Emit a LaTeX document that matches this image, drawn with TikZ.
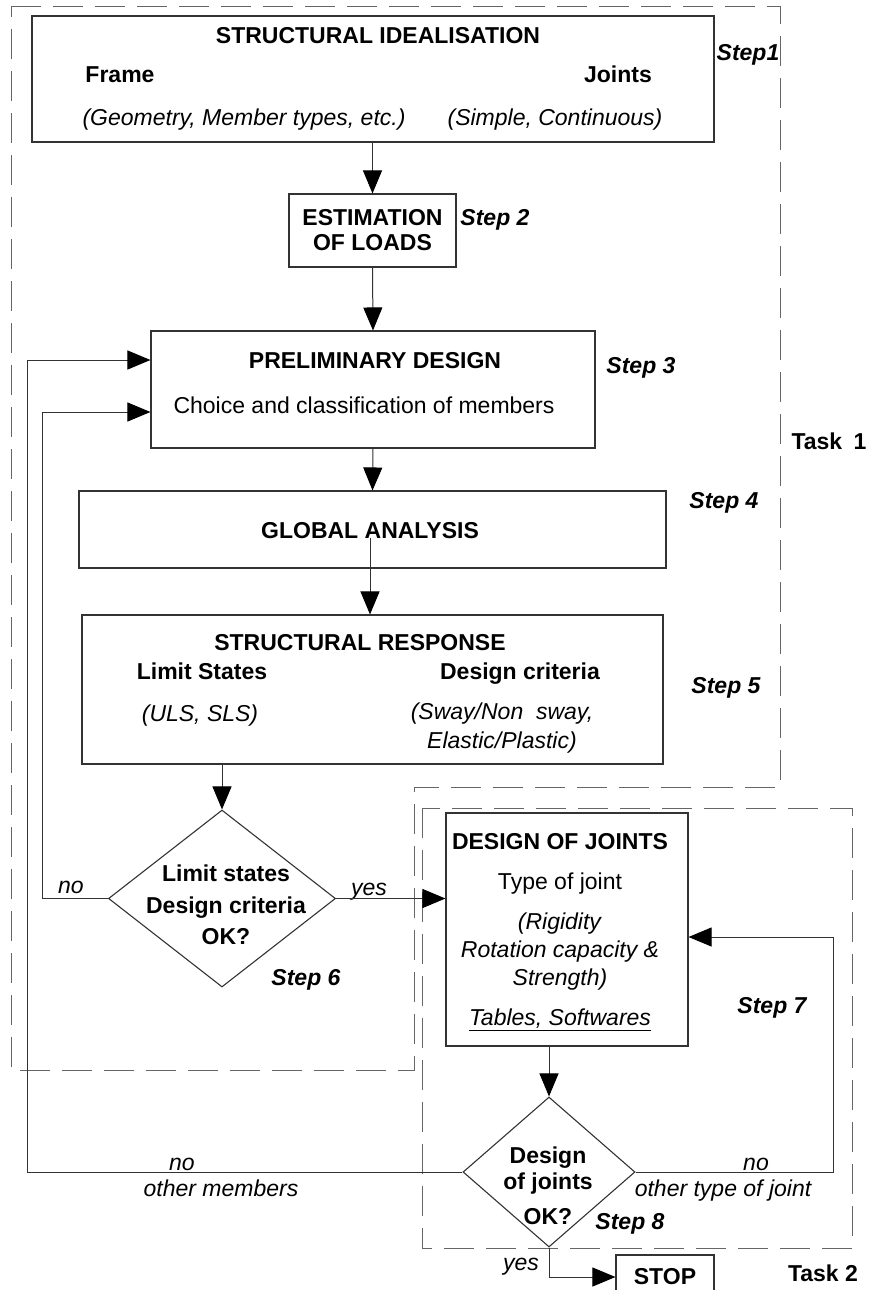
\documentclass[tikz,border=0pt]{standalone}
\usepackage{fontspec}
\setmainfont{Liberation Sans}
\usetikzlibrary{arrows.meta,shapes.geometric}
\begin{document}
\begin{tikzpicture}[x=1pt,y=-1pt,
  box/.style={draw=black!80,line width=1.1pt,inner sep=0pt},
  txt/.style={inner sep=0pt,text height=16.5pt,text depth=0pt},
  lines/.style={inner sep=0pt,align=center},
  steplbl/.style={txt,font=\bfseries\itshape},
  arr/.style={draw=black!80,line width=1pt,-{Triangle[length=23pt,width=19pt,fill=black,color=black]}},
  taskframe/.style={draw=black!60,line width=1pt,dash pattern=on 30pt off 12pt}]
  \fontsize{23}{28}\selectfont
  \useasboundingbox (0,0) rectangle (869,1290);
  \clip (0,0) rectangle (869,1290);
  % task frames
  \draw [taskframe] (11,7) -- (780,7) -- (780,787) -- (414,787) -- (414,1070) -- (11,1070) -- cycle;
  \draw [taskframe] (422,808) rectangle (852,1248);
  % step 1
  \node [box,minimum width=682pt,minimum height=126pt] (ideal) at (373,79) {};
  \node [txt,font=\bfseries] (ideal-t) at (378,35) {STRUCTURAL IDEALISATION};
  \node [txt,font=\bfseries] (frame) at (120,74) {Frame};
  \node [txt,font=\bfseries] (joints) at (618,74) {Joints};
  \node [txt,font=\itshape] (frame-d) at (244,117) {(Geometry, Member types, etc.)};
  \node [txt,font=\itshape] (joints-d) at (555,117) {(Simple, Continuous)};
  \node [steplbl] (s1) at (748,52) {Step1};
  % step 2
  \node [box,lines,font=\bfseries\fontsize{23}{25}\selectfont,minimum width=167pt,minimum height=73pt] (loads) at (372.5,230.5) {ESTIMATION\\OF LOADS};
  \node [steplbl] (s2) at (495,217) {Step 2};
  % step 3
  \node [box,minimum width=444pt,minimum height=117pt] (prelim) at (373,389.5) {};
  \node [txt,font=\bfseries] (prelim-t) at (375,360) {PRELIMINARY DESIGN};
  \node [txt] (prelim-d) at (364,405) {Choice and classification of members};
  \node [steplbl] (s3) at (641,365) {Step 3};
  \node [txt,font=\bfseries] (task1) at (829,441) {Task\enspace 1};
  % step 4
  \node [box,minimum width=587pt,minimum height=77pt] (global) at (372.5,529.5) {};
  \node [txt,font=\bfseries] (global-t) at (370,530) {GLOBAL ANALYSIS};
  \node [steplbl] (s4) at (724,500) {Step 4};
  % step 5
  \node [box,minimum width=581pt,minimum height=149pt] (resp) at (372.5,689.5) {};
  \node [txt,font=\bfseries] (resp-t) at (360,642) {STRUCTURAL RESPONSE};
  \node [txt,font=\bfseries] (limit) at (202,671) {Limit States};
  \node [txt,font=\bfseries] (crit) at (520,671) {Design criteria};
  \node [txt,font=\itshape] (limit-d) at (200,713) {(ULS, SLS)};
  \node [lines,font=\itshape\fontsize{23}{29}\selectfont] (crit-d) at (502,728) {(Sway/Non\ \ sway,\\Elastic/Plastic)};
  \node [steplbl] (s5) at (726,685) {Step 5};
  % step 6
  \node [diamond,box,minimum width=227pt,minimum height=177pt] (check1) at (222,898.5) {};
  \node [lines,font=\bfseries\fontsize{23}{31.5}\selectfont] (check1-t) at (226,905) {Limit states\\Design criteria\\OK?};
  \node [steplbl] (s6) at (306,977) {Step 6};
  % step 7
  \node [box,minimum width=242pt,minimum height=233pt] (joint) at (567,929.5) {};
  \node [lines,font=\fontsize{23}{28}\selectfont] (joint-t) at (560,932) {\textbf{DESIGN OF JOINTS}\\[12pt]Type of joint\\[12pt]\textit{(Rigidity}\\\textit{Rotation capacity \&}\\\textit{Strength)}\\[12pt]\underline{\textit{Tables, Softwares}}};
  \node [steplbl] (s7) at (772,1005) {Step 7};
  % step 8
  \node [diamond,box,minimum width=172pt,minimum height=150pt] (check2) at (549,1172) {};
  \node [lines,font=\bfseries\fontsize{23}{26}\selectfont] (check2-t) at (548,1186) {Design\\of joints\\[9pt]OK?};
  \node [steplbl] (s8) at (630,1221) {Step 8};
  \node [box,font=\bfseries,minimum width=98pt,minimum height=44pt] (stop) at (665,1277) {STOP};
  \node [txt,font=\bfseries] (task2) at (823,1273) {Task 2};
  % answers
  \node [txt,font=\itshape] (no1) at (71,885) {no};
  \node [txt,font=\itshape] (yes1) at (369,887) {yes};
  \node [txt,font=\itshape] (no2) at (182,1162) {no};
  \node [txt,font=\itshape] (no2-d) at (221,1188) {other members};
  \node [txt,font=\itshape] (no3) at (756,1162) {no};
  \node [txt,font=\itshape] (no3-d) at (723,1188) {other type of joint};
  \node [txt,font=\itshape] (yes2) at (521,1262) {yes};
  \coordinate (back1) at (42,412);
  \coordinate (back2) at (27,360);
  \coordinate (retry) at (833,937);
  % connectors
  \draw [arr] (ideal.south -| loads.north) -- (loads.north);
  \draw [arr] (loads.south) -- (prelim.north);
  \draw [arr] (prelim.south) -- (global.north);
  \draw [arr] (global-t.south) -- (global-t.south |- resp.north);
  \draw [arr] (resp.south -| check1.north) -- (check1.north);
  \draw [arr] (check1.east) -- (check1.east -| joint.west);
  \draw [arr] (check1.west) -| (back1) -- (back1 -| prelim.west);
  \draw [arr] (joint.south -| check2.north) -- (check2.north);
  \draw [arr] (check2.east) -| (retry) -- (retry -| joint.east);
  \draw [arr] (check2.west) -| (back2) -- (back2 -| prelim.west);
  \draw [arr] (check2.south) |- (stop.west);
\end{tikzpicture}
\end{document}
